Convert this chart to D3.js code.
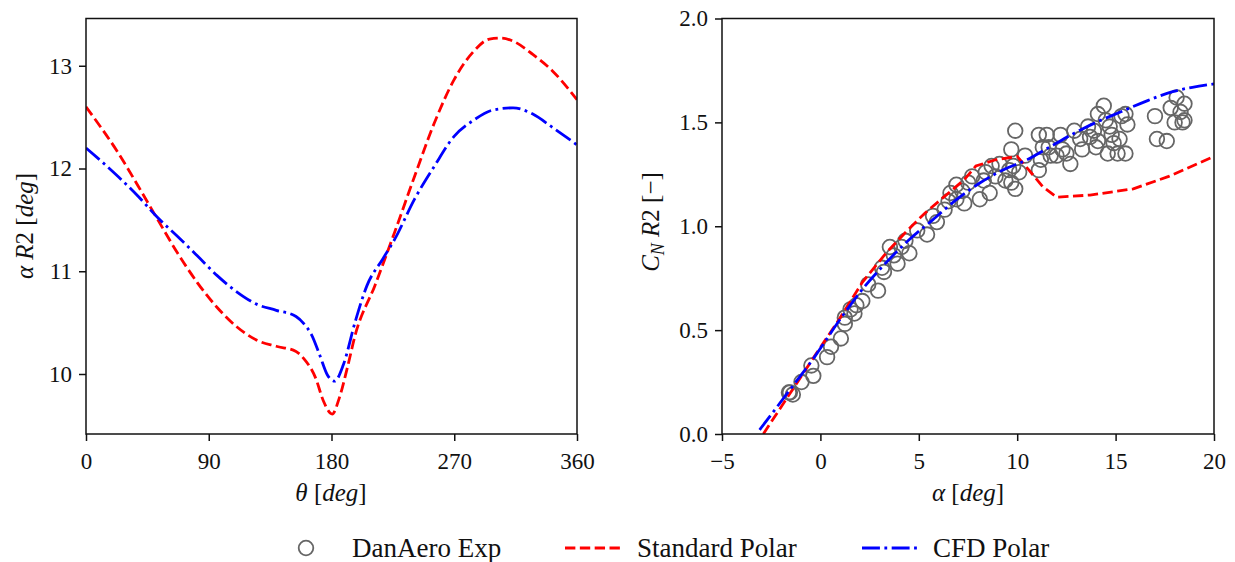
<!DOCTYPE html>
<html lang="en">
<head>
<meta charset="UTF-8">
<title>Polar comparison</title>
<script src="https://d3js.org/d3.v7.min.js"></script>
<style>
  body { margin: 0; background: #fff; }
  svg { display: block; font-family: "Liberation Serif", serif; }
  .axis text { font-size: 23px; fill: #111; }
  .axis line, .axis path { stroke: #111; stroke-width: 1.5; }
  .label { font-size: 25px; fill: #111; }
  .legend text { font-size: 27px; fill: #111; }
</style>
</head>
<body>
<div id="chart"></div>
<script>
// left panel: alpha at R2 over azimuth
const thetaStd = [0, 23.7, 38.2, 52.7, 67, 81.6, 96, 110.5, 125, 139.5, 154, 159.7, 168.4, 174, 180.5, 185.8, 191.6, 197.4, 211.8, 226.3, 240.8, 255.3, 269.7, 284.2, 295.8, 304.4, 313.1, 327.6, 342, 360];
const alphaStd = [12.60, 12.15, 11.83, 11.50, 11.18, 10.89, 10.65, 10.46, 10.33, 10.27, 10.22, 10.15, 9.96, 9.74, 9.61, 9.77, 10.06, 10.38, 10.86, 11.38, 11.92, 12.44, 12.86, 13.14, 13.26, 13.27, 13.24, 13.11, 12.95, 12.67];
const thetaCfd = [0, 23.7, 38.2, 52.7, 67, 81.6, 96, 110.5, 125, 139.5, 154, 159.7, 165.4, 171.2, 177, 182.3, 188.7, 197.4, 206, 217.6, 226.3, 240.8, 255.3, 269.7, 284.2, 298.6, 313.1, 327.6, 342, 360];
const alphaCfd = [12.20, 11.92, 11.73, 11.52, 11.34, 11.15, 10.96, 10.80, 10.68, 10.62, 10.56, 10.49, 10.38, 10.19, 9.99, 9.93, 10.09, 10.51, 10.86, 11.12, 11.31, 11.70, 12.02, 12.31, 12.47, 12.57, 12.59, 12.53, 12.40, 12.23];

// right panel: normal force coefficient vs angle of attack
const aoaStd = [-2.9, -1.65, -0.26, 0.94, 2.13, 3.33, 4.32, 5.32, 6.31, 7.31, 7.9, 8.9, 10.0, 10.6, 11.3, 12.0, 13.7, 15.9, 17.7, 20.0];
const cnStd = [0.0, 0.18, 0.38, 0.55, 0.73, 0.87, 0.97, 1.064, 1.144, 1.224, 1.29, 1.32, 1.336, 1.27, 1.19, 1.14, 1.15, 1.18, 1.24, 1.336];
const aoaCfd = [-3.09, -1.65, -0.26, 0.94, 2.13, 3.33, 4.52, 5.72, 6.91, 8.1, 9.3, 10.5, 11.7, 12.9, 14.1, 15.3, 16.5, 17.9, 18.9, 20.0];
const cnCfd = [0.02, 0.20, 0.376, 0.544, 0.696, 0.824, 0.936, 1.032, 1.128, 1.208, 1.272, 1.32, 1.384, 1.448, 1.504, 1.552, 1.60, 1.648, 1.669, 1.685];

const expAoa = [-1.55, -1.4, -1.6, -0.96, -0.46, -0.36, 0.34, 0.54, 1.04, 1.24, 1.24, 1.53, 1.73, 1.83, 2.13, 2.43, 2.93, 3.13, 3.23, 3.53, 3.73, 3.92, 4.12, 4.52, 4.32, 4.92, 5.42, 5.72, 5.92, 6.31, 6.51, 6.61, 6.91, 6.91, 7.21, 7.31, 7.51, 7.71, 8.1, 8.3, 8.4, 8.6, 8.7, 8.9, 9.1, 9.4, 9.6, 9.7, 9.8, 9.9, 9.7, 9.9, 10.1, 10.4, 11.1, 11.1, 11.3, 11.2, 11.5, 11.6, 11.7, 12.0, 12.2, 12.3, 12.5, 12.7, 12.9, 13.2, 13.3, 13.6, 13.7, 13.9, 14.0, 14.1, 14.1, 14.4, 14.5, 14.6, 14.7, 14.8, 14.9, 15.1, 15.2, 15.3, 15.5, 15.5, 15.6, 17.0, 17.1, 17.6, 17.8, 18.0, 18.1, 18.3, 18.4, 18.5, 18.5];
const expCn = [0.20, 0.19, 0.20, 0.25, 0.33, 0.28, 0.37, 0.42, 0.46, 0.56, 0.53, 0.60, 0.58, 0.62, 0.64, 0.72, 0.69, 0.80, 0.78, 0.90, 0.86, 0.82, 0.90, 0.87, 0.93, 0.98, 0.96, 1.05, 1.02, 1.08, 1.12, 1.16, 1.13, 1.20, 1.17, 1.11, 1.21, 1.24, 1.13, 1.22, 1.26, 1.16, 1.29, 1.24, 1.30, 1.22, 1.27, 1.21, 1.29, 1.18, 1.37, 1.46, 1.26, 1.34, 1.27, 1.44, 1.38, 1.32, 1.44, 1.38, 1.34, 1.34, 1.44, 1.37, 1.35, 1.30, 1.46, 1.42, 1.37, 1.48, 1.43, 1.46, 1.38, 1.41, 1.54, 1.58, 1.51, 1.35, 1.48, 1.44, 1.40, 1.35, 1.42, 1.53, 1.54, 1.35, 1.49, 1.53, 1.42, 1.41, 1.57, 1.50, 1.62, 1.55, 1.50, 1.59, 1.51];

const leftTicksX = [0, 90, 180, 270, 360];
const leftTicksY = [10, 11, 12, 13];
const rightTicksX = [-5, 0, 5, 10, 15, 20];
const rightTicksY = [0.0, 0.5, 1.0, 1.5, 2.0];

const W = 1235, H = 562;
const plotTop = 18.5, plotBottom = 434;
const RED = "#ff0000", BLUE = "#0000ff", GREY = "#666666";
const LW = 2.8;
const dashStd = `${3.7 * LW},${1.6 * LW}`;
const dashCfd = `${6.4 * LW},${1.6 * LW},${1 * LW},${1.6 * LW}`;

const svg = d3.select("#chart").append("svg")
  .attr("width", W).attr("height", H);
svg.append("rect").attr("width", W).attr("height", H).attr("fill", "#fff");

const xL = d3.scaleLinear().domain([0, 360]).range([86, 577]);
const yL = d3.scaleLinear().domain([9.416, 13.46]).range([plotBottom, plotTop]);
const xR = d3.scaleLinear().domain([-5, 20]).range([722, 1214]);
const yR = d3.scaleLinear().domain([0, 2]).range([plotBottom, plotTop]);

function addClip(id, x) {
  svg.append("clipPath").attr("id", id).append("rect")
    .attr("x", x.range()[0]).attr("y", plotTop)
    .attr("width", x.range()[1] - x.range()[0]).attr("height", plotBottom - plotTop);
}
addClip("clipL", xL);
addClip("clipR", xR);

function drawAxes(x, y, xticks, yticks, xfmt, yfmt) {
  svg.append("g").attr("class", "axis")
    .attr("transform", `translate(0,${plotBottom})`)
    .call(d3.axisBottom(x).tickValues(xticks).tickFormat(xfmt).tickSize(7).tickSizeOuter(0).tickPadding(12))
    .attr("font-family", null)
    .call(g => g.select(".domain").remove());
  svg.append("g").attr("class", "axis")
    .attr("transform", `translate(${x.range()[0]},0)`)
    .call(d3.axisLeft(y).tickValues(yticks).tickFormat(yfmt).tickSize(7).tickSizeOuter(0).tickPadding(7))
    .attr("font-family", null)
    .call(g => g.select(".domain").remove());
  svg.append("rect")
    .attr("x", x.range()[0]).attr("y", plotTop)
    .attr("width", x.range()[1] - x.range()[0]).attr("height", plotBottom - plotTop)
    .attr("fill", "none").attr("stroke", "#111").attr("stroke-width", 1.5);
}

function drawLine(xs, ys, x, y, color, dash, clip, curve) {
  const pts = xs.map((v, i) => [v, ys[i]]);
  svg.append("path")
    .datum(pts)
    .attr("clip-path", `url(#${clip})`)
    .attr("fill", "none")
    .attr("stroke", color)
    .attr("stroke-width", LW)
    .attr("stroke-dasharray", dash)
    .attr("d", d3.line().curve(curve).x(d => x(d[0])).y(d => y(d[1])));
}

// left panel
drawLine(thetaStd, alphaStd, xL, yL, RED, dashStd, "clipL", d3.curveMonotoneX);
drawLine(thetaCfd, alphaCfd, xL, yL, BLUE, dashCfd, "clipL", d3.curveMonotoneX);
drawAxes(xL, yL, leftTicksX, leftTicksY, d3.format("d"), d3.format("d"));

// right panel
svg.append("g").attr("clip-path", "url(#clipR)")
  .selectAll("circle")
  .data(expAoa.map((a, i) => [a, expCn[i]]))
  .join("circle")
  .attr("cx", d => xR(d[0]))
  .attr("cy", d => yR(d[1]))
  .attr("r", 7.3)
  .attr("fill", "none")
  .attr("stroke", GREY)
  .attr("stroke-width", 1.8);
drawLine(aoaStd, cnStd, xR, yR, RED, dashStd, "clipR", d3.curveLinear);
drawLine(aoaCfd, cnCfd, xR, yR, BLUE, dashCfd, "clipR", d3.curveMonotoneX);
drawAxes(xR, yR, rightTicksX, rightTicksY, d => d < 0 ? "\u2212" + Math.abs(d) : String(d), d3.format(".1f"));

// axis labels
function mathLabel(parts, x, y, rotate) {
  const t = svg.append("text").attr("class", "label")
    .attr("text-anchor", "middle")
    .attr("transform", `translate(${x},${y})` + (rotate ? " rotate(-90)" : ""));
  parts.forEach(p => {
    const s = t.append("tspan").text(p.t);
    if (p.i) s.attr("font-style", "italic");
    if (p.sub) s.attr("font-size", "18px").attr("dy", 5);
    if (p.up) s.attr("dy", -5);
  });
}
mathLabel([{t: "\u03b8", i: 1}, {t: " ["}, {t: "deg", i: 1}, {t: "]"}], 331, 501, false);
mathLabel([{t: "\u03b1", i: 1}, {t: " "}, {t: "R", i: 1}, {t: "2 ["}, {t: "deg", i: 1}, {t: "]"}], 33, 226, true);
mathLabel([{t: "\u03b1", i: 1}, {t: " ["}, {t: "deg", i: 1}, {t: "]"}], 968, 501, false);
mathLabel([{t: "C", i: 1}, {t: "N", i: 1, sub: 1}, {t: "  ", up: 1}, {t: "R", i: 1}, {t: "2 [\u2212]"}], 659, 222, true);

// legend
const lg = svg.append("g").attr("class", "legend");
const ly = 548;
lg.append("circle").attr("cx", 306).attr("cy", ly).attr("r", 7.3)
  .attr("fill", "none").attr("stroke", GREY).attr("stroke-width", 1.8);
lg.append("text").attr("x", 352).attr("y", ly + 9).text("DanAero Exp");
lg.append("line").attr("x1", 565).attr("x2", 620).attr("y1", ly).attr("y2", ly)
  .attr("stroke", RED).attr("stroke-width", LW).attr("stroke-dasharray", dashStd);
lg.append("text").attr("x", 637).attr("y", ly + 9).text("Standard Polar");
lg.append("line").attr("x1", 862).attr("x2", 918).attr("y1", ly).attr("y2", ly)
  .attr("stroke", BLUE).attr("stroke-width", LW).attr("stroke-dasharray", dashCfd);
lg.append("text").attr("x", 933).attr("y", ly + 9).text("CFD Polar");
</script>
</body>
</html>
